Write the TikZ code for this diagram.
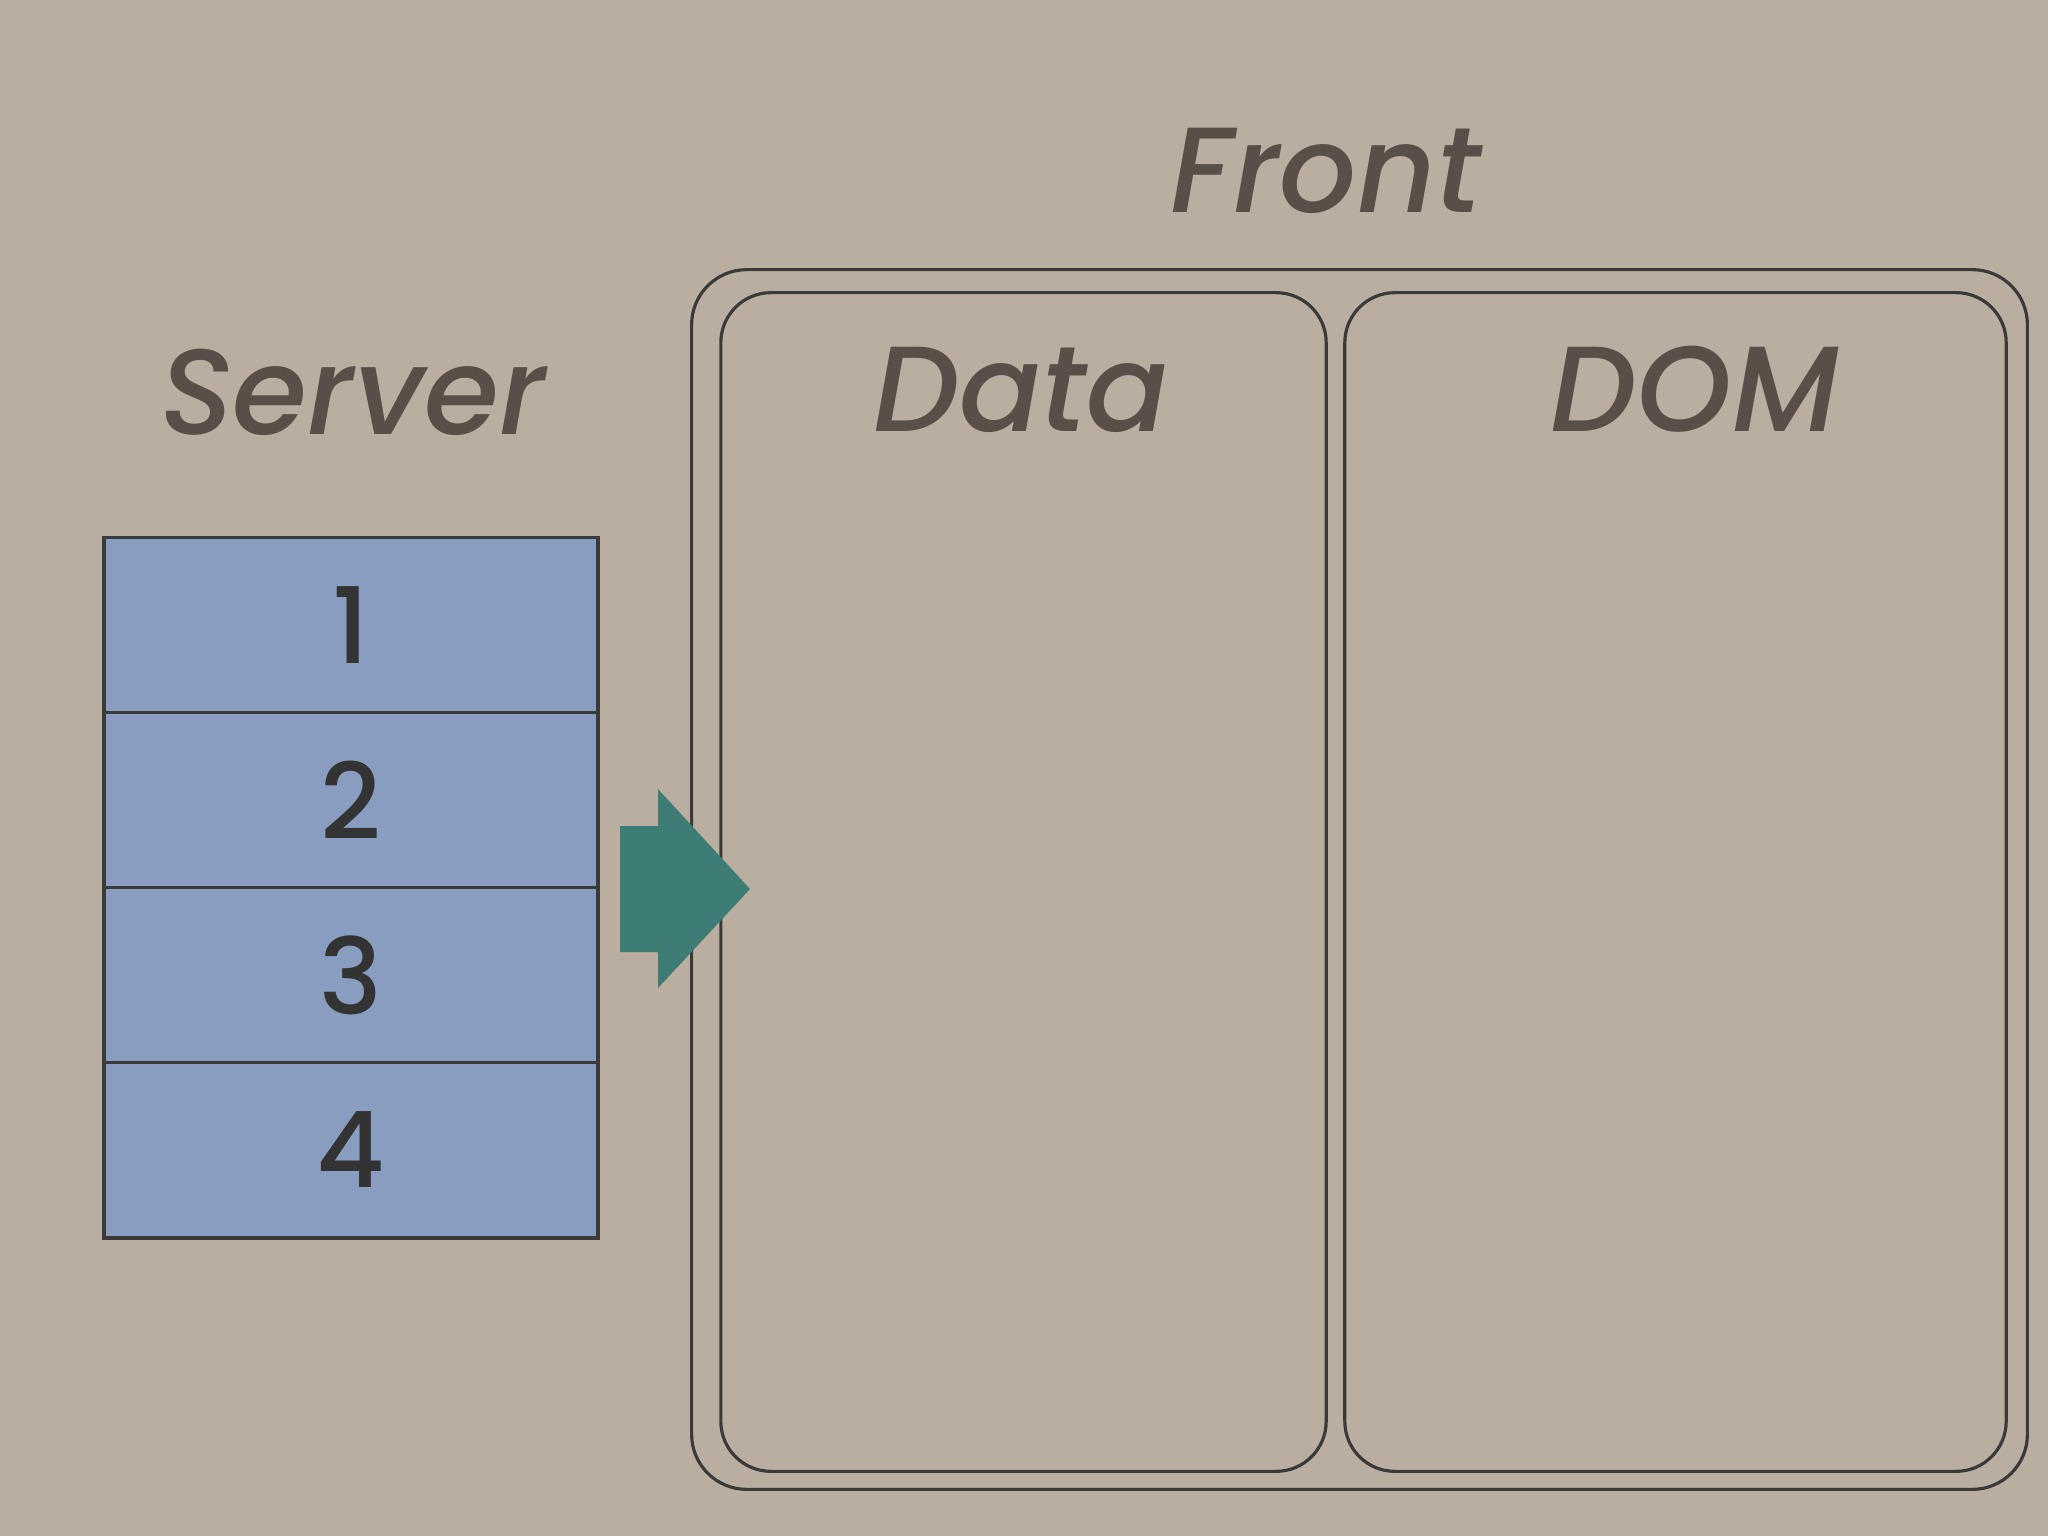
\documentclass[tikz,border=0pt]{standalone}
\usepackage{fontspec}
\setmainfont{Poppins}[UprightFont=* Medium, ItalicFont=* Medium Italic]
\usepackage{xcolor}
\usetikzlibrary{positioning}
\definecolor{cPaper}{HTML}{B9AE9F}
\definecolor{cCell}{HTML}{889DC0}
\definecolor{cFlow}{HTML}{3E7C76}
\definecolor{cInk}{HTML}{5A4E48}
\definecolor{cLine}{HTML}{3A3A3A}
\definecolor{cDigit}{HTML}{333333}
\tikzset{
  title/.style={
    anchor=base, inner sep=0pt,
    font=\fontsize{34.5}{40}\selectfont\itshape, text=cInk
  },
  cell/.style={
    rectangle, draw=cLine, fill=cCell, line width=1.1pt,
    minimum width=4.94cm, minimum height=1.75cm, inner sep=0pt,
    font=\fontsize{30}{36}\selectfont, text=cDigit
  },
  pane/.style={
    rectangle, draw=cLine, line width=0.9pt,
    rounded corners=#1, inner sep=0pt
  },
  flow/.style={
    fill=cFlow, draw=none
  }
}

\begin{document}
\begin{tikzpicture}[x=0.01cm, y=-0.01cm, node distance=0pt]

%% ── Paper ────────────────────────────────────────────────────────
\fill[cPaper] (0,0) rectangle (2048,1536);
\useasboundingbox (0,0) rectangle (2048,1536);

%% ── Server ───────────────────────────────────────────────────────
\node[title] (server) at (353,434) {Server};

% rows 1..4
\foreach \i in {1,...,4}
  \node[cell] (r\i) at (351,450+175*\i) {\i};

%% ── Front ────────────────────────────────────────────────────────
\node[pane=0.55cm, minimum width=13.35cm, minimum height=12.19cm]
  (front) at (1359.5,879.5) {};
\node[pane=0.5cm, minimum width=6.05cm, minimum height=11.78cm]
  (data) at (1023.5,882) {};
\node[pane=0.5cm, minimum width=6.61cm, minimum height=11.78cm]
  (dom) at (1675.5,882) {};

\node[title] (frontlbl) at (1326,212) {Front};
\node[title] (datalbl) at (1021,431) {Data};
\node[title] (domlbl) at (1695,431) {DOM};

%% ── Arrow ────────────────────────────────────────────────────────
\coordinate (load) at (620,889);
\fill[flow] (load) ++(0,-63) -- ++(38,0) -- ++(0,-37) -- ++(92,100)
  -- ++(-92,99) -- ++(0,-36) -- ++(-38,0) -- cycle;

\end{tikzpicture}
\end{document}
